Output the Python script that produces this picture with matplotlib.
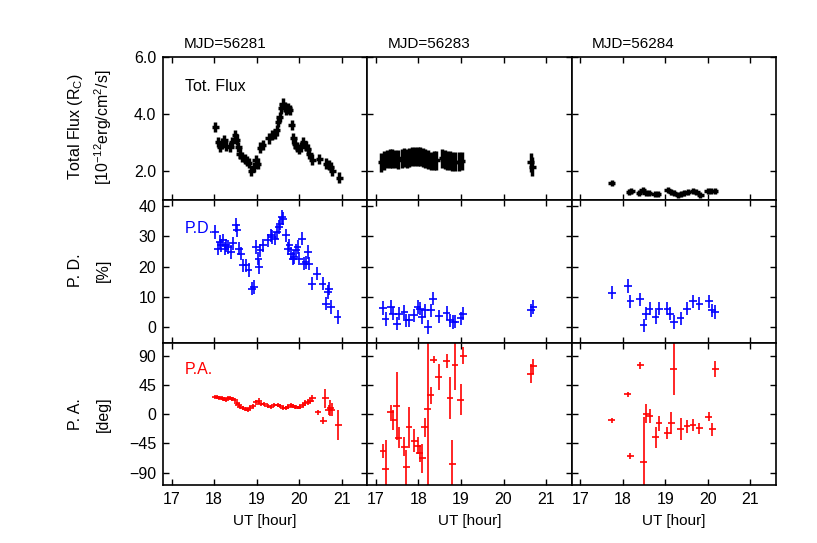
import numpy as np
import matplotlib
matplotlib.use("Agg")
import matplotlib.pyplot as plt

plt.rcParams['font.family'] = ['Liberation Sans', 'DejaVu Sans']
plt.rcParams['mathtext.fontset'] = 'custom'
plt.rcParams['mathtext.rm'] = 'Liberation Sans'
plt.rcParams['mathtext.it'] = 'Liberation Sans'

mjd = ["MJD=56281", "MJD=56283", "MJD=56284"]

# ---- MJD 56281 ----
t_f1 = [18.03, 18.09, 18.14, 18.19, 18.24, 18.28, 18.38, 18.43, 18.49, 18.53, 18.57, 18.60, 18.65, 18.72,
        18.77, 18.81, 18.87, 18.93, 18.98, 19.03, 19.08, 19.14, 19.28, 19.36, 19.43, 19.47, 19.50, 19.54,
        19.58, 19.61, 19.66, 19.70, 19.74, 19.78, 19.82, 19.86, 19.90, 19.94, 19.99, 20.05, 20.10, 20.15,
        20.20, 20.24, 20.31, 20.47, 20.63, 20.69, 20.74, 20.78, 20.94]
flux1 = [3.54, 3.02, 2.84, 2.96, 3.08, 2.87, 2.84, 3.02, 3.25, 3.10, 2.84, 2.61, 2.49, 2.43,
         2.35, 2.28, 2.00, 2.14, 2.38, 2.26, 2.82, 2.90, 3.14, 3.25, 3.30, 3.42, 3.72, 3.90,
         4.19, 4.36, 4.25, 4.13, 4.19, 4.13, 3.60, 3.14, 2.96, 2.84, 2.78, 2.84, 3.02, 2.87,
         2.78, 2.61, 2.40, 2.43, 2.26, 2.20, 2.14, 2.00, 1.77]

t_p1 = [18.03, 18.09, 18.13, 18.17, 18.21, 18.25, 18.28, 18.32, 18.40, 18.45, 18.51, 18.54, 18.59, 18.63,
        18.67, 18.76, 18.81, 18.89, 18.94, 18.99, 19.04, 19.06, 19.09, 19.15, 19.27, 19.33, 19.36, 19.44,
        19.48, 19.52, 19.55, 19.59, 19.63, 19.69, 19.73, 19.77, 19.81, 19.85, 19.88, 19.92, 19.96, 20.00,
        20.07, 20.11, 20.15, 20.20, 20.24, 20.30, 20.42, 20.55, 20.63, 20.67, 20.70, 20.74, 20.90]
pd1 = [31.4, 25.9, 28.1, 27.0, 28.6, 25.9, 27.0, 26.4, 24.8, 27.6, 33.6, 31.9, 25.9, 24.2,
       20.4, 20.4, 18.8, 12.7, 13.3, 26.4, 22.6, 19.8, 25.3, 27.0, 28.6, 30.3, 29.7, 29.2,
       31.4, 33.0, 34.1, 36.3, 35.7, 30.3, 25.9, 27.0, 24.2, 22.6, 23.1, 25.3, 26.4, 22.6,
       29.2, 20.9, 21.4, 24.8, 20.9, 14.4, 17.7, 14.4, 7.8, 11.6, 12.7, 6.7, 3.4]

t_a1 = [18.03, 18.08, 18.12, 18.18, 18.23, 18.27, 18.33, 18.38, 18.42, 18.48, 18.54, 18.58, 18.62, 18.68,
        18.74, 18.79, 18.85, 18.91, 18.99, 19.05, 19.10, 19.18, 19.26, 19.33, 19.41, 19.49, 19.56, 19.62,
        19.68, 19.74, 19.80, 19.86, 19.91, 19.97, 20.03, 20.08, 20.14, 20.20, 20.26, 20.31, 20.44, 20.57,
        20.61, 20.69, 20.73, 20.77, 20.92]
pa1 = [26, 26, 25, 24, 23, 21, 24, 25, 23, 21, 17, 13.5, 11, 9,
       7.5, 6.5, 9, 12, 18, 20, 16, 16, 12, 11, 13.5, 14.5, 12, 9,
       9, 11, 13.5, 12, 11, 10, 11, 13.5, 17, 18.5, 20, 24, 2.5, -10,
       24, 6.5, 9, 6.5, -17]
pa1_err = [3, 3, 3, 3, 3, 3, 3, 3, 3, 3, 3, 3, 3, 3,
           3, 3, 3, 3, 4, 4, 3, 3, 3, 3, 3, 3, 3, 3,
           3, 3, 3, 3, 3, 3, 3, 3, 4, 4, 4, 5, 4, 5,
           14, 8, 12, 10, 23]

# ---- MJD 56283 ----
t_f2 = [17.13, 17.19, 17.27, 17.33, 17.39, 17.45, 17.52, 17.62, 17.67, 17.73, 17.79, 17.86, 17.92, 17.98,
        18.03, 18.10, 18.16, 18.23, 18.29, 18.36, 18.42, 18.56, 18.63, 18.68, 18.74, 18.80, 18.87, 18.95,
        19.02, 20.64, 20.68]
flux2 = [2.30, 2.38, 2.42, 2.45, 2.44, 2.42, 2.40, 2.45, 2.47, 2.44, 2.48, 2.50, 2.52, 2.51,
         2.50, 2.48, 2.45, 2.40, 2.35, 2.36, 2.38, 2.44, 2.40, 2.36, 2.38, 2.34, 2.33, 2.32,
         2.35, 2.30, 2.15]

t_p2 = [17.17, 17.23, 17.35, 17.41, 17.49, 17.54, 17.67, 17.72, 17.78, 17.90, 17.98, 18.03, 18.09, 18.15,
        18.22, 18.29, 18.35, 18.48, 18.66, 18.74, 18.82, 18.87, 18.99, 19.05, 20.64, 20.70]
pd2 = [6.4, 2.8, 6.7, 4.5, 1.2, 4.5, 5.0, 2.3, 2.3, 3.9, 6.7, 6.1, 3.4, 5.6,
       0.1, 5.6, 9.4, 3.6, 4.7, 2.3, 1.7, 1.9, 3.0, 4.5, 5.6, 6.7]

t_a2 = [17.17, 17.23, 17.35, 17.41, 17.49, 17.54, 17.67, 17.72, 17.78, 17.90, 17.98, 18.03, 18.09, 18.15,
        18.22, 18.29, 18.36, 18.48, 18.66, 18.74, 18.80, 18.86, 18.99, 19.05, 20.64, 20.70]
pa2 = [-56.5, -85, 3, -9.5, 12.4, -36.6, -50.3, -82, -20.7, -41, -49, -60.5, -68, -20.7,
       8.4, 28.8, 83.9, 56.8, 81.3, 24.7, -76.8, 74.7, 22.2, 90, 62, 73.2]
pa2_err = [11, 45, 11, 15, 53, 16, 15, 27, 31, 18, 13, 13, 22, 14,
           200, 13, 6, 20, 11, 32, 37, 37, 24, 13, 15, 11]

# ---- MJD 56284 ----
t_f3 = [17.74, 18.15, 18.20, 18.38, 18.47, 18.54, 18.61, 18.75, 18.83, 19.06, 19.14, 19.20, 19.30, 19.38,
        19.45, 19.53, 19.65, 19.73, 19.82, 20.00, 20.08, 20.16]
flux3 = [1.59, 1.26, 1.29, 1.22, 1.34, 1.22, 1.22, 1.20, 1.20, 1.34, 1.26, 1.22, 1.17, 1.20,
         1.22, 1.26, 1.31, 1.26, 1.17, 1.29, 1.29, 1.29]

t_p3 = [17.74, 18.12, 18.18, 18.41, 18.49, 18.55, 18.63, 18.77, 18.85, 19.05, 19.12, 19.20, 19.36, 19.51,
        19.65, 19.80, 20.02, 20.10, 20.17]
pd3 = [11.4, 13.6, 8.6, 9.2, 0.7, 4.5, 6.1, 3.4, 6.1, 6.1, 4.5, 1.7, 3.0, 6.1,
       8.6, 7.8, 8.6, 5.6, 5.0]

t_a3 = [17.74, 18.12, 18.18, 18.41, 18.49, 18.55, 18.63, 18.77, 18.85, 19.05, 19.14, 19.20, 19.36, 19.51,
        19.65, 19.80, 20.02, 20.10, 20.17]
pa3 = [-9.5, 30.3, -64.6, 74.7, -74.3, 0.7, -3.4, -36, -14.5, -28.9, -13.6, 69.7, -23.7, -18.7,
       -17, -22.2, -4.4, -23.7, 69.7]
pa3_err = [4, 4, 5, 5, 70, 15, 11, 16, 11, 9, 17, 40, 17, 10,
           9, 9, 7, 10, 12]

flux_t = [t_f1, t_f2, t_f3]
flux_v = [flux1, flux2, flux3]
flux_e = [0.18, 0.33, 0.1]
pd_t = [t_p1, t_p2, t_p3]
pd_v = [pd1, pd2, pd3]
pa_t = [t_a1, t_a2, t_a3]
pa_v = [pa1, pa2, pa3]
pa_e = [pa1_err, pa2_err, pa3_err]

fig, axes = plt.subplots(3, 3, figsize=(8.17, 5.43), dpi=100, sharex=True)
fig.subplots_adjust(left=0.1995, right=0.9498, top=0.8956, bottom=0.1059, hspace=0, wspace=0)

for j in range(3):
    ax0, ax1, ax2 = axes[0, j], axes[1, j], axes[2, j]
    ax0.errorbar(flux_t[j], flux_v[j], yerr=flux_e[j], xerr=0.08, fmt='none',
                 ecolor='black', elinewidth=2.5, capsize=0)
    ax1.errorbar(pd_t[j], pd_v[j], yerr=2.2, xerr=0.09, fmt='none',
                 ecolor='blue', elinewidth=1.4, capsize=0, alpha=0.85)
    ax2.errorbar(pa_t[j], pa_v[j], yerr=pa_e[j], xerr=0.08, fmt='none',
                 ecolor='red', elinewidth=1.4, capsize=0, alpha=0.85)

    ax0.set_ylim(1, 6)
    ax0.set_yticks([2, 4, 6])
    ax1.set_ylim(-5, 42)
    ax1.set_yticks([0, 10, 20, 30, 40])
    ax2.set_ylim(-110, 110)
    ax2.set_yticks([-90, -45, 0, 45, 90])
    ax2.set_xlim(16.8, 21.6)
    ax2.set_xticks([17, 18, 19, 20, 21])
    ax2.set_xlabel("UT [hour]", fontsize=11, labelpad=5)

    ax0.text(0.1, 1.04, mjd[j], transform=ax0.transAxes, fontsize=11, ha='left', va='bottom')

    for ax in (ax0, ax1, ax2):
        ax.tick_params(direction='in', top=True, right=True, length=4.5, width=1.0,
                       labelsize=11.5, pad=5)
        for s in ax.spines.values():
            s.set_linewidth(1.2)
        if j > 0:
            ax.tick_params(labelleft=False)

axes[0, 0].yaxis.set_major_formatter(matplotlib.ticker.FormatStrFormatter('%.1f'))

axes[0, 0].text(0.108, 0.79, "Tot. Flux", transform=axes[0, 0].transAxes, fontsize=11.5,
                ha='left', va='center', color='black')
axes[1, 0].text(0.108, 0.80, "P.D.", transform=axes[1, 0].transAxes, fontsize=11.5,
                ha='left', va='center', color='blue')
axes[2, 0].text(0.108, 0.81, "P.A.", transform=axes[2, 0].transAxes, fontsize=11.5,
                ha='left', va='center', color='red')

fig.text(0.092, 1 - 127 / 543, "Total Flux (R$_\\mathrm{C}$)", rotation=90, ha='center', va='center', fontsize=11.5)
fig.text(0.126, 1 - 127 / 543, "[10$^{-12}$erg/cm$^2$/s]", rotation=90, ha='center', va='center', fontsize=11.5)
fig.text(0.092, 1 - 270 / 543, "P. D.", rotation=90, ha='center', va='center', fontsize=11.5)
fig.text(0.126, 1 - 270 / 543, "[%]", rotation=90, ha='center', va='center', fontsize=11.5)
fig.text(0.092, 1 - 414 / 543, "P. A.", rotation=90, ha='center', va='center', fontsize=11.5)
fig.text(0.126, 1 - 414 / 543, "[deg]", rotation=90, ha='center', va='center', fontsize=11.5)

fig.savefig("out.png", dpi=100)
